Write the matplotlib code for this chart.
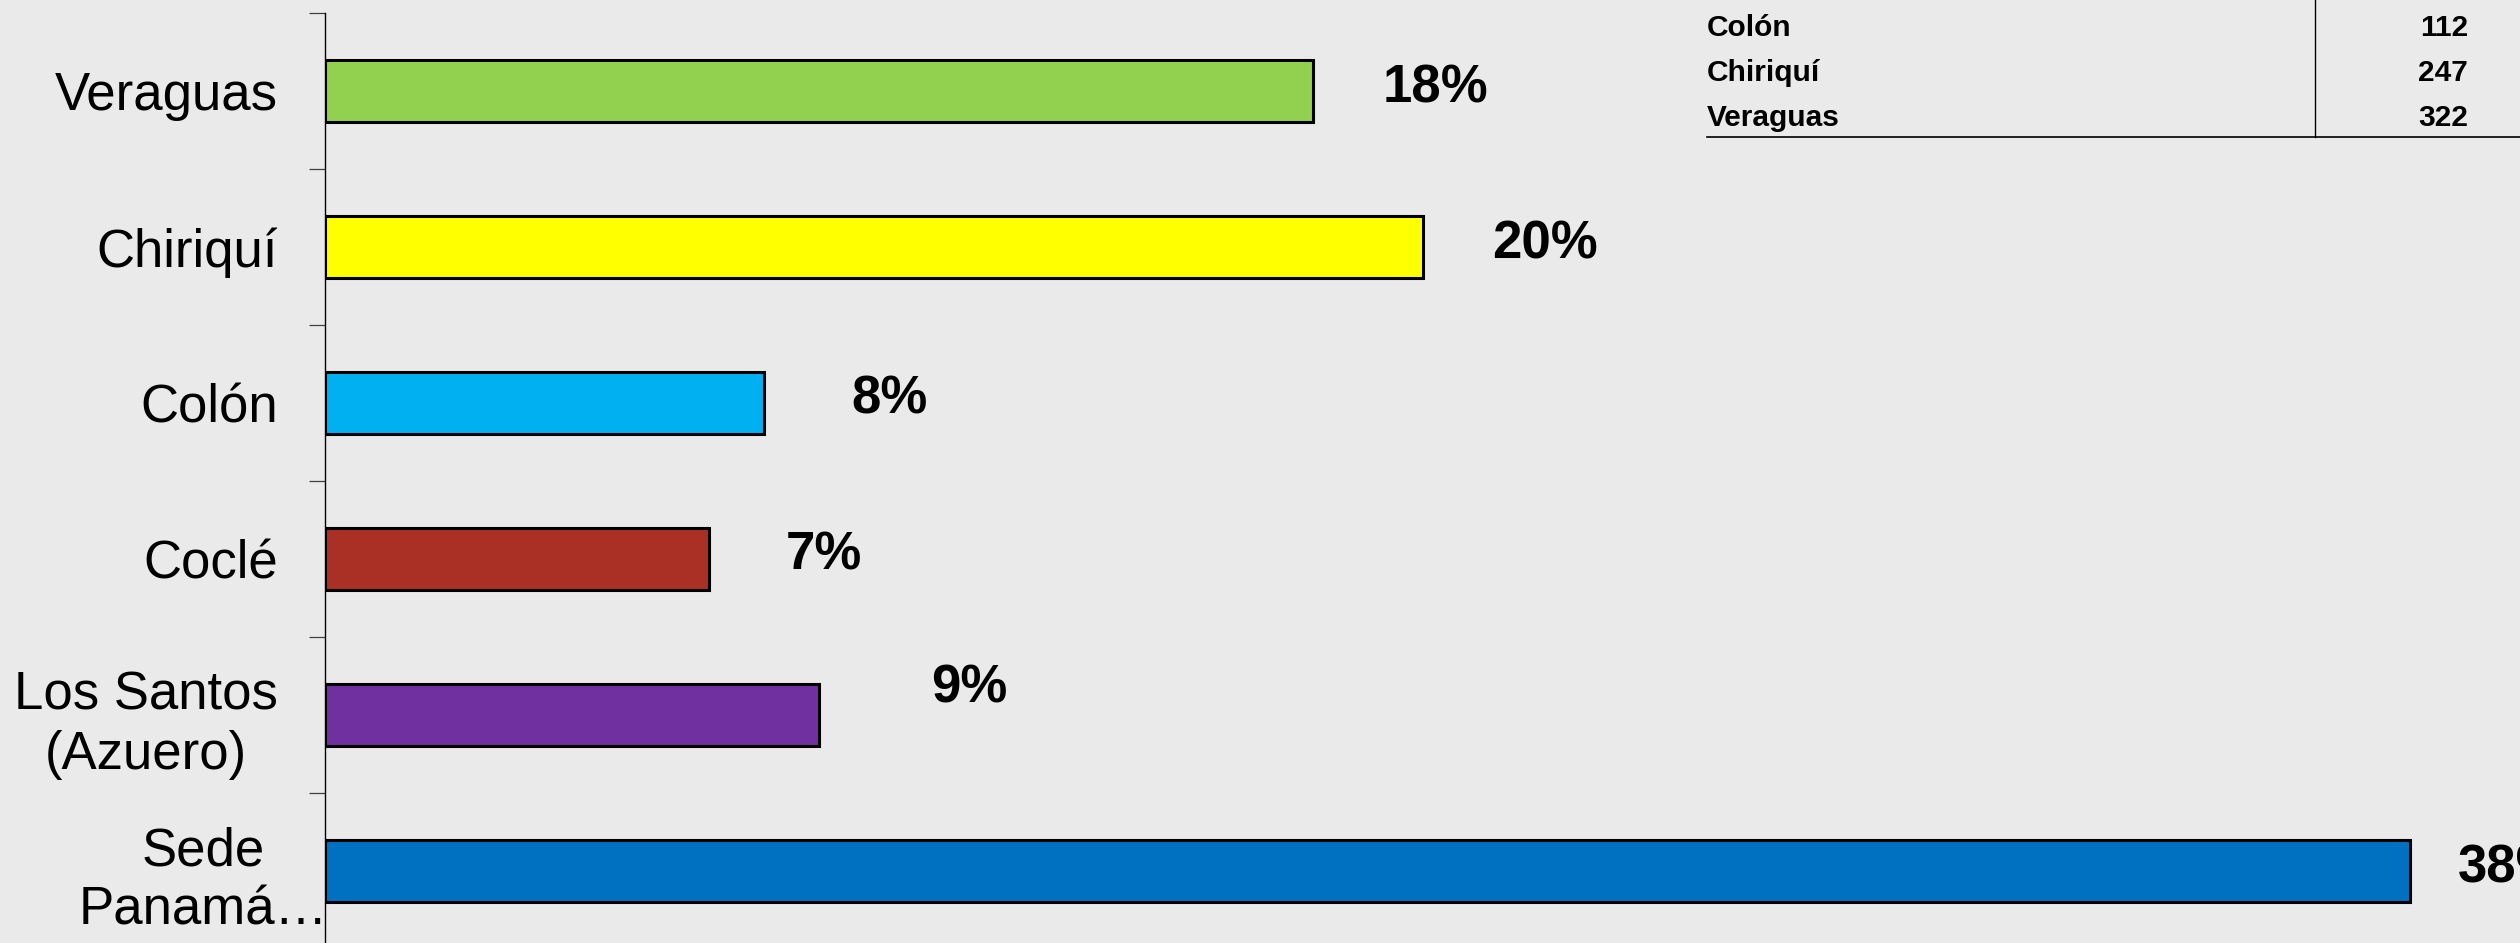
import matplotlib
matplotlib.use('Agg')
import matplotlib.pyplot as plt
from matplotlib.lines import Line2D
import matplotlib.transforms as mtransforms

plt.rcParams['font.family'] = ['Liberation Sans', 'DejaVu Sans']

# data
sedes = ['Veraguas', 'Chiriquí', 'Colón', 'Coclé', 'Los Santos\n(Azuero)', 'Sede\nPanamá…']
porcentajes = [18, 20, 8, 7, 9, 38]
colores = ['#92D050', '#FFFF00', '#00B0F0', '#AA3026', '#7030A0', '#0070C0']

tabla_sedes = ['Colón', 'Chiriquí', 'Veraguas']
tabla_valores = [112, 247, 322]

# label nudges in pixels (dx, dy of baseline)
label_dx = [70, 70, 87, 77, 112, 48]
label_dy = [-12, -12, -11, -11, 12, -12]

bg = '#EAEAEA'
W, H = 2520, 943
fig = plt.figure(figsize=(W / 100, H / 100), dpi=100, facecolor=bg)
ax = fig.add_axes([325 / W, 1 - 949 / H, 2195 / W, 936 / H])
ax.set_facecolor(bg)

pos = list(range(len(sedes)))
ax.barh(pos, porcentajes, height=0.4, color=colores, edgecolor='black', linewidth=2.2)

ax.set_xlim(0, 40)
ax.set_ylim(len(sedes) - 0.5, -0.5)

for s in ['top', 'right', 'bottom']:
    ax.spines[s].set_visible(False)
ax.spines['left'].set_linewidth(1.0)
ax.set_xticks([])

ax.set_yticks(pos)
ax.set_yticklabels(sedes, fontsize=38, linespacing=1.24)
ax.tick_params(axis='y', which='major', length=0, pad=34)
ax.set_yticks([p - 0.5 for p in range(len(sedes) + 1)], minor=True)
ax.tick_params(axis='y', which='minor', length=11.5, width=0.9, color='#404040', direction='out')
for lbl in ax.get_yticklabels():
    lbl.set_multialignment('center')
shift = mtransforms.ScaledTranslation(50 / 100, 0, fig.dpi_scale_trans)
last = ax.get_yticklabels()[-1]
last.set_transform(last.get_transform() + shift)

for i, v in enumerate(porcentajes):
    ax.annotate(f'{v}%', xy=(v, i), xytext=(label_dx[i], label_dy[i]),
                textcoords='offset pixels', ha='left', va='baseline',
                fontsize=38, fontweight='bold', annotation_clip=False)

# partial table at the top right
rows_y = [28, 73, 118]
for name, val, y in zip(tabla_sedes, tabla_valores, rows_y):
    fig.text(1707 / W, 1 - y / H, name, ha='left', va='center', fontsize=21.5,
             fontweight='bold')
    fig.text(2468 / W, 1 - y / H, str(val), ha='right', va='center', fontsize=21.5,
             fontweight='bold')
fig.add_artist(Line2D([2315 / W, 2315 / W], [1, 1 - 137 / H], color='black', linewidth=1.0))
fig.add_artist(Line2D([1707 / W, 1], [1 - 137 / H, 1 - 137 / H], color='black', linewidth=1.2))

fig.savefig('out.png', dpi=100, facecolor=bg)
